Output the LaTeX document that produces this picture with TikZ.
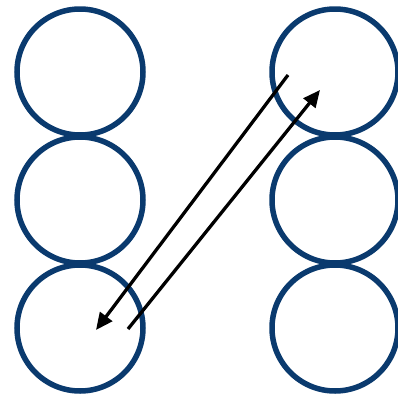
\documentclass[tikz,border=0pt]{standalone}
\usepackage{tikz}
\usetikzlibrary{arrows.meta}
\definecolor{ringblue}{HTML}{0A3A6E}

\begin{document}
\begin{tikzpicture}[>={Triangle[length=17pt,width=15pt]}, x=1pt, y=-1pt,
    ring/.style={draw=ringblue, line width=5.5pt, circle, minimum size=126pt, inner sep=0pt}]
  \useasboundingbox (0,0) rectangle (397,399);
  % left column
  \node[ring] (l1) at (80,72) {};
  \node[ring] (l2) at (80,200) {};
  \node[ring] (l3) at (80,328) {};
  % right column
  \node[ring] (r1) at (335,72) {};
  \node[ring] (r2) at (335,200) {};
  \node[ring] (r3) at (335,328) {};
  % arrow ends
  \coordinate (downstart) at (288,75);
  \coordinate (downend) at (96,330);
  \coordinate (upstart) at (128,329);
  \coordinate (upend) at (320,90);
  \draw[->, line width=3.3pt] (downstart) -- (downend);
  \draw[->, line width=3.3pt] (upstart) -- (upend);
\end{tikzpicture}
\end{document}
